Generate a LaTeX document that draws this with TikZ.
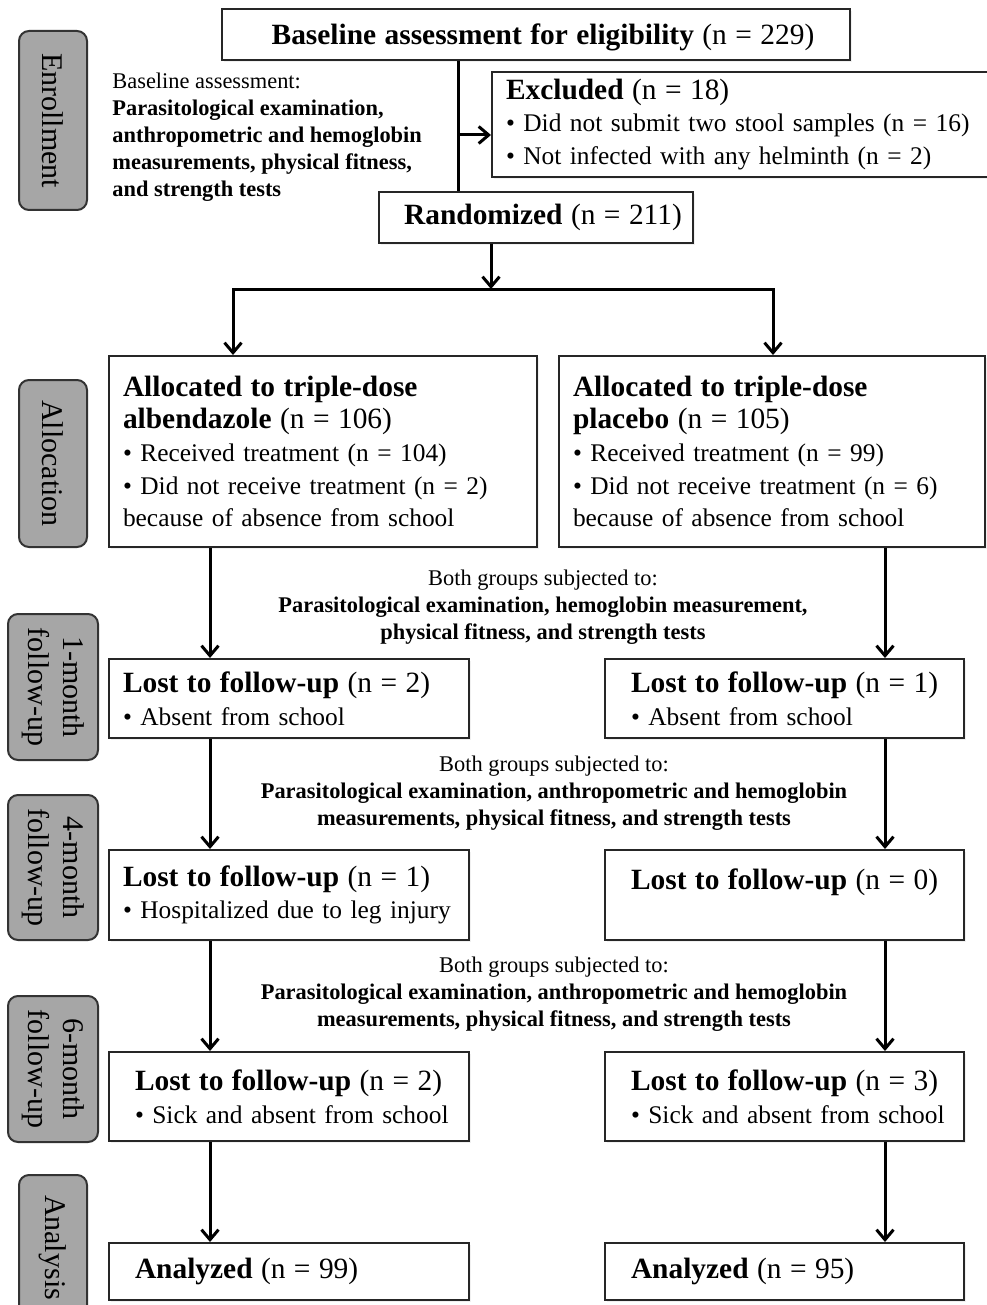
\documentclass[tikz,border=0pt]{standalone}
\usepackage{fontspec}
\setmainfont{Liberation Serif}
\usetikzlibrary{arrows.meta}
\usetikzlibrary{shapes,shadows}
\definecolor{sidegray}{RGB}{166,166,166}
\newcommand{\boxhead}[2]{{\fontsize{14.7}{16.3}\selectfont\textbf{#1} #2}}
\newcommand{\pad}{\hspace*{6pt}}
\hyphenpenalty=10000
\exhyphenpenalty=10000

\tikzset{
  flow/.style={draw=black!85, line width=1pt, fill=white, inner xsep=7pt, inner ysep=0pt,
    align=left, font=\fontsize{12.7}{16.3}\selectfont,
    drop shadow={opacity=0.12, shadow xshift=0.8pt, shadow yshift=-0.8pt}},
  stage/.style={draw=black!80, line width=1pt, fill=sidegray, rounded corners=5pt, rotate=-90,
    align=center, inner sep=0pt, font=\fontsize{15}{17.5}\selectfont},
  note/.style={align=center, inner sep=0pt, font=\fontsize{11.2}{13.5}\selectfont},
  link/.style={line width=1.5pt},
  arr/.style={line width=1.5pt, -{Straight Barb[length=5pt,width=8.5pt]}}
}

\begin{document}
\begin{tikzpicture}[x=0.5pt, y=-0.5pt]
    \useasboundingbox (0,0) rectangle (986,1305);

    % Stage labels on the left
    \node[stage, minimum width=89.5pt, minimum height=34pt] (enrol) at (53,120.5) {Enrollment};
    \node[stage, minimum width=83.5pt, minimum height=34pt] (alloc) at (53,463.5) {Allocation};
    \node[stage, minimum width=73pt, minimum height=45pt] (fu1) at (53,687) {1-month\\follow-up};
    \node[stage, minimum width=72.5pt, minimum height=45pt] (fu4) at (53,867.5) {4-month\\follow-up};
    \node[stage, minimum width=73pt, minimum height=45pt] (fu6) at (53,1069) {6-month\\follow-up};
    \node[stage, minimum width=72.5pt, minimum height=34pt] (anal) at (53,1247.5) {Analysis};

    % Enrollment
    \node[flow, align=center, inner xsep=2pt, text width=310pt, minimum height=25.5pt, text depth=0pt] (base) at (536,34.5)
        {\hspace*{7pt}\boxhead{Baseline assessment for eligibility}{(n = 229)}};
    \node[note, anchor=west, align=left] (basenote) at (112,137.5)
        {Baseline assessment:\\ \textbf{Parasitological examination,}\\
         \textbf{anthropometric and hemoglobin}\\ \textbf{measurements, physical fitness,}\\
         \textbf{and strength tests}};
    \node[flow, text width=235pt, minimum height=52.5pt] (excl) at (741,124.5)
        {\boxhead{Excluded}{(n = 18)}\\
         \textbullet{} Did not submit two stool samples (n = 16)\\
         \textbullet{} Not infected with any helminth (n = 2)};
    \node[flow, align=center, inner xsep=2pt, text width=153pt, minimum height=25.5pt] (rand) at (536,217.5)
        {\hspace*{7pt}\boxhead{Randomized}{(n = 211)}};

    % Allocation
    \node[flow, text width=200pt, minimum height=95.5pt] (allocA) at (323,451.5)
        {\boxhead{Allocated to triple-dose}{}\\ \boxhead{albendazole}{(n = 106)}\\
         \textbullet{} Received treatment (n = 104)\\
         \textbullet{} Did not receive treatment (n = 2)\\
         because of absence from school};
    \node[flow, text width=199pt, minimum height=95.5pt] (allocP) at (772,451.5)
        {\boxhead{Allocated to triple-dose}{}\\ \boxhead{placebo}{(n = 105)}\\
         \textbullet{} Received treatment (n = 99)\\
         \textbullet{} Did not receive treatment (n = 6)\\
         because of absence from school};

    % Follow-up
    \node[note] (test1) at (543,607)
        {Both groups subjected to:\\
         \textbf{Parasitological examination, hemoglobin measurement,}\\
         \textbf{physical fitness, and strength tests}};
    \node[flow, text width=166pt, minimum height=39.5pt] (lost1A) at (289,698.5)
        {\boxhead{Lost to follow-up}{(n = 2)}\\ \textbullet{} Absent from school};
    \node[flow, text width=165.5pt, minimum height=39.5pt] (lost1P) at (784.5,698.5)
        {\pad\boxhead{Lost to follow-up}{(n = 1)}\\ \pad\textbullet{} Absent from school};

    \node[note] (test4) at (554,793)
        {Both groups subjected to:\\
         \textbf{Parasitological examination, anthropometric and hemoglobin}\\
         \textbf{measurements, physical fitness, and strength tests}};
    \node[flow, text width=166pt, minimum height=45pt] (lost4A) at (289,895)
        {\boxhead{Lost to follow-up}{(n = 1)}\\ \textbullet{} Hospitalized due to leg injury};
    \node[flow, text width=165.5pt, minimum height=45pt] (lost4P) at (784.5,895)
        {\pad\boxhead{Lost to follow-up}{(n = 0)}\\ \mbox{}};

    \node[note] (test6) at (554,994)
        {Both groups subjected to:\\
         \textbf{Parasitological examination, anthropometric and hemoglobin}\\
         \textbf{measurements, physical fitness, and strength tests}};
    \node[flow, text width=166pt, minimum height=44.5pt] (lost6A) at (289,1096.5)
        {\pad\boxhead{Lost to follow-up}{(n = 2)}\\ \pad\textbullet{} Sick and absent from school};
    \node[flow, text width=165.5pt, minimum height=44.5pt] (lost6P) at (784.5,1096.5)
        {\pad\boxhead{Lost to follow-up}{(n = 3)}\\ \pad\textbullet{} Sick and absent from school};

    % Analysis
    \node[flow, text width=166pt, minimum height=28.5pt] (anA) at (289,1271.5)
        {\pad\boxhead{Analyzed}{(n = 99)}};
    \node[flow, text width=165.5pt, minimum height=28.5pt] (anP) at (784.5,1271.5)
        {\pad\boxhead{Analyzed}{(n = 95)}};

    % Connectors of the enrollment part
    \coordinate (split) at (458,135);
    \draw[link] (split |- base.south) -- (split |- rand.north);
    \draw[arr] (split) -- (split -| excl.west);
    \coordinate (fork) at (491,289);
    \coordinate (forkA) at (233,289);
    \coordinate (forkP) at (773,289);
    \draw[arr] (fork |- rand.south) -- (fork);
    \draw[arr] (fork) -- (forkA) -- (forkA |- allocA.north);
    \draw[arr] (fork) -- (forkP) -- (forkP |- allocP.north);

    % Arrows down each arm
    \coordinate (colA) at (210,0);
    \coordinate (colP) at (885,0);
    \foreach \u/\v in {allocA/lost1A, lost1A/lost4A, lost4A/lost6A, lost6A/anA}
        \draw[arr] (colA |- \u.south) -- (colA |- \v.north);
    \foreach \u/\v in {allocP/lost1P, lost1P/lost4P, lost4P/lost6P, lost6P/anP}
        \draw[arr] (colP |- \u.south) -- (colP |- \v.north);
\end{tikzpicture}
\end{document}
